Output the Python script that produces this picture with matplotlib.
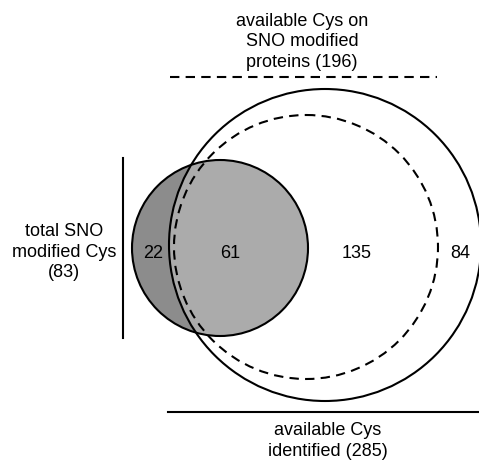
import matplotlib
matplotlib.use("Agg")
import matplotlib.pyplot as plt
from matplotlib.patches import Circle

plt.rcParams['font.family'] = ['Liberation Sans', 'DejaVu Sans']

# region counts (only SNO, SNO & available, available on SNO proteins, other identified)
counts = [22, 61, 135, 84]
count_x = [153, 230, 357, 460]

label_sno = "total SNO\nmodified Cys\n(83)"
label_prot = "available Cys on\nSNO modified\nproteins (196)"
label_ident = "available Cys\nidentified (285)"

# circles: (cx, cy, r)
big = (325, 245, 156)
dashed = (306, 247, 132)
sno = (220, 248, 88)

fig = plt.figure(figsize=(4.79, 4.61), dpi=100)
ax = fig.add_axes([0, 0, 1, 1])
ax.set_xlim(0, 479)
ax.set_ylim(461, 0)
ax.axis("off")

# SNO circle, dark part first, then lighter part clipped to big circle
ax.add_patch(Circle(sno[:2], sno[2], fc="#8c8c8c", ec="none", zorder=1))
clip = Circle(big[:2], big[2], transform=ax.transData)
light = Circle(sno[:2], sno[2], fc="#ababab", ec="none", zorder=2)
ax.add_patch(light)
light.set_clip_path(clip)

dash = (0, (4.5, 3))
ax.add_patch(Circle(big[:2], big[2], fc="none", ec="black", lw=1.5, zorder=3))
ax.add_patch(Circle(dashed[:2], dashed[2], fc="none", ec="black", lw=1.5,
                    ls=dash, zorder=3))
ax.add_patch(Circle(sno[:2], sno[2], fc="none", ec="black", lw=1.5, zorder=4))

fs = 13
for x, c in zip(count_x, counts):
    ax.text(x, 253, str(c), ha="center", va="center", fontsize=fs, zorder=5)

# brackets
ax.plot([123, 123], [158, 338], color="black", lw=1.5)
ax.plot([170, 437], [77, 77], color="black", lw=1.5, ls=dash)
ax.plot([168, 479], [412, 412], color="black", lw=1.5)

ax.text(64, 252, label_sno, ha="center", va="center", fontsize=fs, linespacing=1.25)
ax.text(302, 42, label_prot, ha="center", va="center", fontsize=fs, linespacing=1.25)
ax.text(328, 441, label_ident, ha="center", va="center", fontsize=fs, linespacing=1.25)

fig.savefig("out.png", dpi=100)
